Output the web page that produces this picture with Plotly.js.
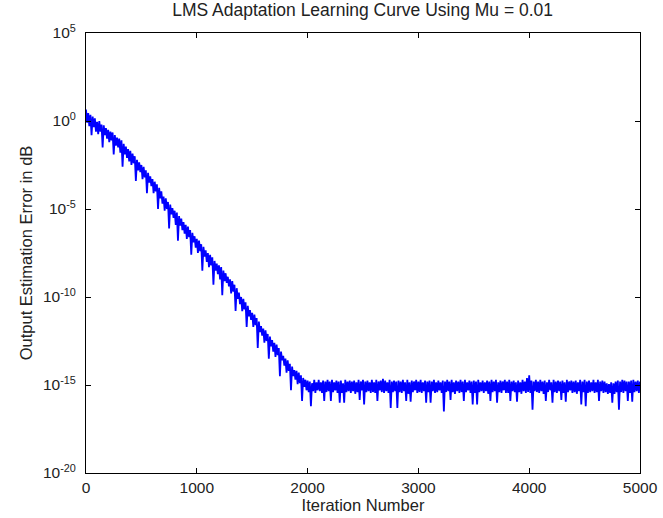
<!DOCTYPE html>
<html>
<head>
<meta charset="utf-8">
<script src="https://cdn.plot.ly/plotly-3.0.1.min.js"></script>
<style>html,body{margin:0;padding:0;background:#fff;}#chart{width:663px;height:518px;}</style>
</head>
<body>
<div id="chart"></div>
<script>
// Chart text
const chartTitle = "LMS Adaptation Learning Curve Using Mu = 0.01";
const xTitle = "Iteration Number";
const yTitle = "Output Estimation Error in dB";

// Sampling grid of the read-off curve (iteration number): one value every 10 iterations
const sampleStep = 10;
// Error, as log10 of the value (one row = 100 iterations)
const errorLog10 = [
  0.65, -0.1, 0.45, -0.3, 0.35, -0.8, 0.25, -0.35, 0.15, -0.6,
  -0.05, -0.75, 0.0, -0.6, -0.2, -1.5, -0.25, -0.8, -0.4, -1.0,
  -0.5, -1.2, -0.6, -1.1, -0.65, -1.9, -0.8, -1.4, -0.95, -1.5,
  -1.0, -1.8, -1.1, -2.6, -1.3, -1.9, -1.45, -2.1, -1.6, -2.3,
  -1.7, -2.5, -1.85, -2.4, -2.0, -3.4, -2.2, -2.8, -2.35, -2.9,
  -2.5, -3.3, -2.6, -3.2, -2.8, -4.1, -2.95, -3.5, -3.15, -3.7,
  -3.3, -4.1, -3.45, -4.0, -3.6, -5.0, -3.8, -4.4, -4.0, -4.7,
  -4.3, -5.1, -4.4, -5.0, -4.6, -6.1, -4.75, -5.3, -4.95, -5.5,
  -5.1, -5.9, -5.2, -6.8, -5.4, -5.95, -5.55, -6.2, -5.75, -6.4,
  -5.9, -6.7, -6.0, -6.6, -6.2, -7.6, -6.35, -6.9, -6.55, -7.2,
  -6.7, -7.5, -6.8, -7.4, -7.0, -8.5, -7.15, -7.7, -7.35, -8.0,
  -7.5, -8.3, -7.6, -8.2, -7.75, -9.3, -7.95, -8.5, -8.1, -8.7,
  -8.2, -9.0, -8.3, -9.9, -8.5, -9.1, -8.65, -9.2, -8.85, -9.4,
  -9.0, -9.8, -9.1, -9.7, -9.3, -10.8, -9.5, -10.1, -9.75, -10.4,
  -10.0, -10.8, -10.1, -10.7, -10.3, -11.7, -10.5, -11.1, -10.75, -11.3,
  -10.9, -11.7, -11.0, -11.6, -11.2, -12.9, -11.4, -12.0, -11.65, -12.2,
  -11.8, -12.6, -11.9, -12.5, -12.1, -13.5, -12.25, -12.8, -12.45, -13.1,
  -12.6, -13.4, -12.7, -13.3, -12.9, -14.5, -13.1, -13.6, -13.35, -13.9,
  -13.5, -14.3, -13.6, -14.2, -13.8, -15.3, -13.95, -14.5, -14.15, -14.7,
  -14.2, -14.95, -14.3, -14.9, -14.45, -15.9, -14.6, -15.1, -14.7, -15.3,
  -14.75, -15.4, -14.8, -16.2, -14.9, -15.35, -14.7, -15.45, -14.85, -15.3,
  -14.7, -15.35, -14.85, -15.45, -14.75, -15.9, -14.8, -15.4, -14.7, -15.35,
  -14.8, -15.9, -14.7, -15.4, -14.85, -15.3, -14.75, -15.45, -14.8, -16.0,
  -14.75, -15.45, -14.9, -16.0, -14.7, -15.4, -14.8, -15.35, -14.75, -15.45,
  -14.8, -15.35, -14.75, -15.5, -14.85, -15.4, -14.7, -15.85, -14.8, -15.3,
  -14.7, -16.1, -14.8, -15.4, -14.75, -15.35, -14.85, -15.45, -14.7, -15.4,
  -14.85, -15.45, -14.7, -15.9, -14.8, -15.3, -14.75, -15.4, -14.65, -15.45,
  -14.75, -15.35, -14.85, -15.45, -14.7, -16.3, -14.8, -15.4, -14.75, -15.35,
  -14.8, -16.3, -14.75, -15.4, -14.8, -15.45, -14.7, -15.35, -14.85, -15.9,
  -14.7, -15.5, -14.85, -15.95, -14.75, -15.4, -14.8, -15.3, -14.7, -15.45,
  -14.8, -15.4, -14.7, -15.45, -14.85, -15.35, -14.75, -16.0, -14.8, -15.4,
  -14.75, -16.0, -14.8, -15.35, -14.7, -15.45, -14.85, -15.4, -14.75, -15.3,
  -14.85, -15.45, -14.75, -16.5, -14.8, -15.4, -14.7, -15.35, -14.8, -15.85,
  -14.7, -15.4, -14.85, -15.5, -14.75, -15.35, -14.8, -15.45, -14.7, -15.4,
  -14.8, -15.9, -14.7, -15.4, -14.85, -15.3, -14.75, -15.45, -14.8, -16.1,
  -14.75, -15.45, -14.8, -16.1, -14.7, -15.4, -14.85, -15.35, -14.75, -15.45,
  -14.85, -15.35, -14.75, -15.5, -14.8, -15.9, -14.7, -15.4, -14.8, -15.35,
  -14.7, -16.0, -14.85, -15.4, -14.75, -15.45, -14.8, -15.3, -14.7, -15.45,
  -14.8, -15.45, -14.7, -15.9, -14.8, -15.35, -14.75, -15.4, -14.85, -15.95,
  -14.75, -15.4, -14.85, -15.5, -14.7, -15.35, -14.8, -15.45, -14.6, -15.4,
  -14.45, -15.45, -14.75, -16.4, -14.8, -15.35, -14.7, -15.4, -14.8, -15.45,
  -14.7, -15.35, -14.8, -15.5, -14.75, -15.9, -14.85, -15.4, -14.7, -15.3,
  -14.85, -16.0, -14.7, -15.4, -14.8, -15.45, -14.75, -15.35, -14.8, -15.85,
  -14.75, -15.45, -14.85, -15.95, -14.7, -15.4, -14.8, -15.3, -14.75, -15.45,
  -14.8, -15.4, -14.75, -15.5, -14.85, -15.35, -14.7, -16.1, -14.8, -15.4,
  -14.7, -16.2, -14.8, -15.45, -14.75, -15.4, -14.85, -15.35, -14.7, -15.45,
  -14.85, -15.4, -14.7, -15.9, -14.8, -15.35, -14.75, -15.45, -14.8, -15.4,
  -14.9, -15.5, -14.95, -15.45, -14.85, -16.0, -14.9, -15.5, -14.8, -15.4,
  -14.75, -16.4, -14.8, -15.4, -14.7, -15.45, -14.75, -15.35, -14.8, -15.9,
  -14.8, -15.45, -14.75, -15.95, -14.7, -15.4, -14.8, -15.35, -14.75, -15.45,
  -14.8
];
// Axis ticks
const xTickVals = [0, 1000, 2000, 3000, 4000, 5000];
const yTickVals = [1e-20, 1e-15, 1e-10, 1e-5, 1e0, 1e5];
const yTickText = ["10<sup>-20</sup>", "10<sup>-15</sup>", "10<sup>-10</sup>", "10<sup>-5</sup>", "10<sup>0</sup>", "10<sup>5</sup>"];

const iterations = errorLog10.map((_, i) => i * sampleStep);
const errorValues = errorLog10.map(v => Math.pow(10, v));

const font = "Liberation Sans, Arial, sans-serif";
const axisCommon = {
  showline: true, linecolor: "#000", linewidth: 1, mirror: "ticks",
  ticks: "inside", ticklen: 5, tickcolor: "#000", tickwidth: 1,
  showgrid: false, zeroline: false,
  tickfont: {family: font, size: 15.5, color: "#222"}
};

Plotly.newPlot("chart", [{
  x: iterations, y: errorValues, type: "scatter", mode: "lines",
  line: {color: "#0000ff", width: 1.8}, hoverinfo: "skip"
}], {
  width: 663, height: 518,
  margin: {l: 86, r: 23, t: 33, b: 45},
  paper_bgcolor: "#fff", plot_bgcolor: "#fff",
  showlegend: false,
  title: {text: chartTitle, x: 0.547, xanchor: "center", y: 0.992, yanchor: "top",
          font: {family: font, size: 17.5, color: "#222"}},
  xaxis: Object.assign({}, axisCommon, {
    range: [0, 5000], tickvals: xTickVals,
    title: {text: xTitle, standoff: 4, font: {family: font, size: 16.5, color: "#222"}}
  }),
  yaxis: Object.assign({}, axisCommon, {
    type: "log", range: [-20, 5], tickvals: yTickVals, ticktext: yTickText,
    ticklabelstandoff: 6,
    title: {text: yTitle, standoff: 6, font: {family: font, size: 16.5, color: "#222"}}
  })
}, {staticPlot: true});
</script>
</body>
</html>
